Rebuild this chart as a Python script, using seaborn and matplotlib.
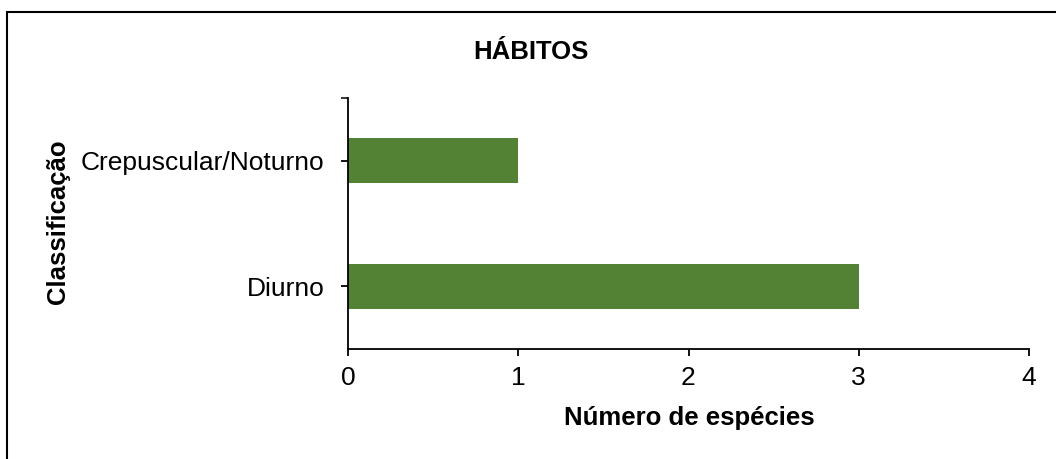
import matplotlib
matplotlib.use("Agg")
import matplotlib.pyplot as plt
import seaborn as sns
import pandas as pd
from matplotlib.lines import Line2D

categorias = ["Crepuscular/Noturno", "Diurno"]
num_especies = [1, 3]
x_ticks = [0, 1, 2, 3, 4]

sns.set_style("ticks")
plt.rcParams["font.family"] = ["Liberation Sans", "DejaVu Sans"]
plt.rcParams["text.color"] = "black"

df = pd.DataFrame({"Classificação": categorias, "Número de espécies": num_especies})

fig = plt.figure(figsize=(10.56, 4.59), dpi=100)
ax = fig.add_axes([348 / 1056, 1 - 349 / 459, (1029 - 348) / 1056, (349 - 98) / 459])

sns.barplot(data=df, x="Número de espécies", y="Classificação", order=categorias,
            color="#548235", saturation=1, width=0.36, linewidth=0, ax=ax)

ax.set_xlim(0, 4)
ax.set_ylim(1.5, -0.5)
ax.set_xticks(x_ticks)
ax.set_yticks([0, 1])
ax.set_yticks([-0.5], minor=True)
ax.set_xlabel("")
ax.set_ylabel("")

for s in ["top", "right"]:
    ax.spines[s].set_visible(False)
for s in ["left", "bottom"]:
    ax.spines[s].set_linewidth(1.3)
    ax.spines[s].set_color("black")

ax.tick_params(axis="x", length=5, width=1.3, pad=7, labelsize=19, colors="black")
ax.tick_params(axis="y", length=5, width=1.3, pad=12, labelsize=19, colors="black")
ax.tick_params(axis="y", which="minor", length=5, width=1.3)

fig.text(531 / 1056, 1 - 52 / 459, "HÁBITOS", ha="center", va="center",
         fontsize=18.5, fontweight="bold", color="black")
fig.text(689 / 1056, 1 - 418 / 459, "Número de espécies", ha="center", va="center",
         fontsize=18.5, fontweight="bold", color="black")
fig.text(58 / 1056, 1 - 222 / 459, "Classificação", ha="center", va="center",
         rotation=90, fontsize=18.5, fontweight="bold", color="black")

# borda da área do gráfico
fig.add_artist(Line2D([7 / 1056, 7 / 1056], [0, 1 - 12 / 459], transform=fig.transFigure,
                      color="black", lw=1.5))
fig.add_artist(Line2D([7 / 1056, 1], [1 - 12 / 459, 1 - 12 / 459], transform=fig.transFigure,
                      color="black", lw=1.5))

fig.savefig("out.png", dpi=100)
